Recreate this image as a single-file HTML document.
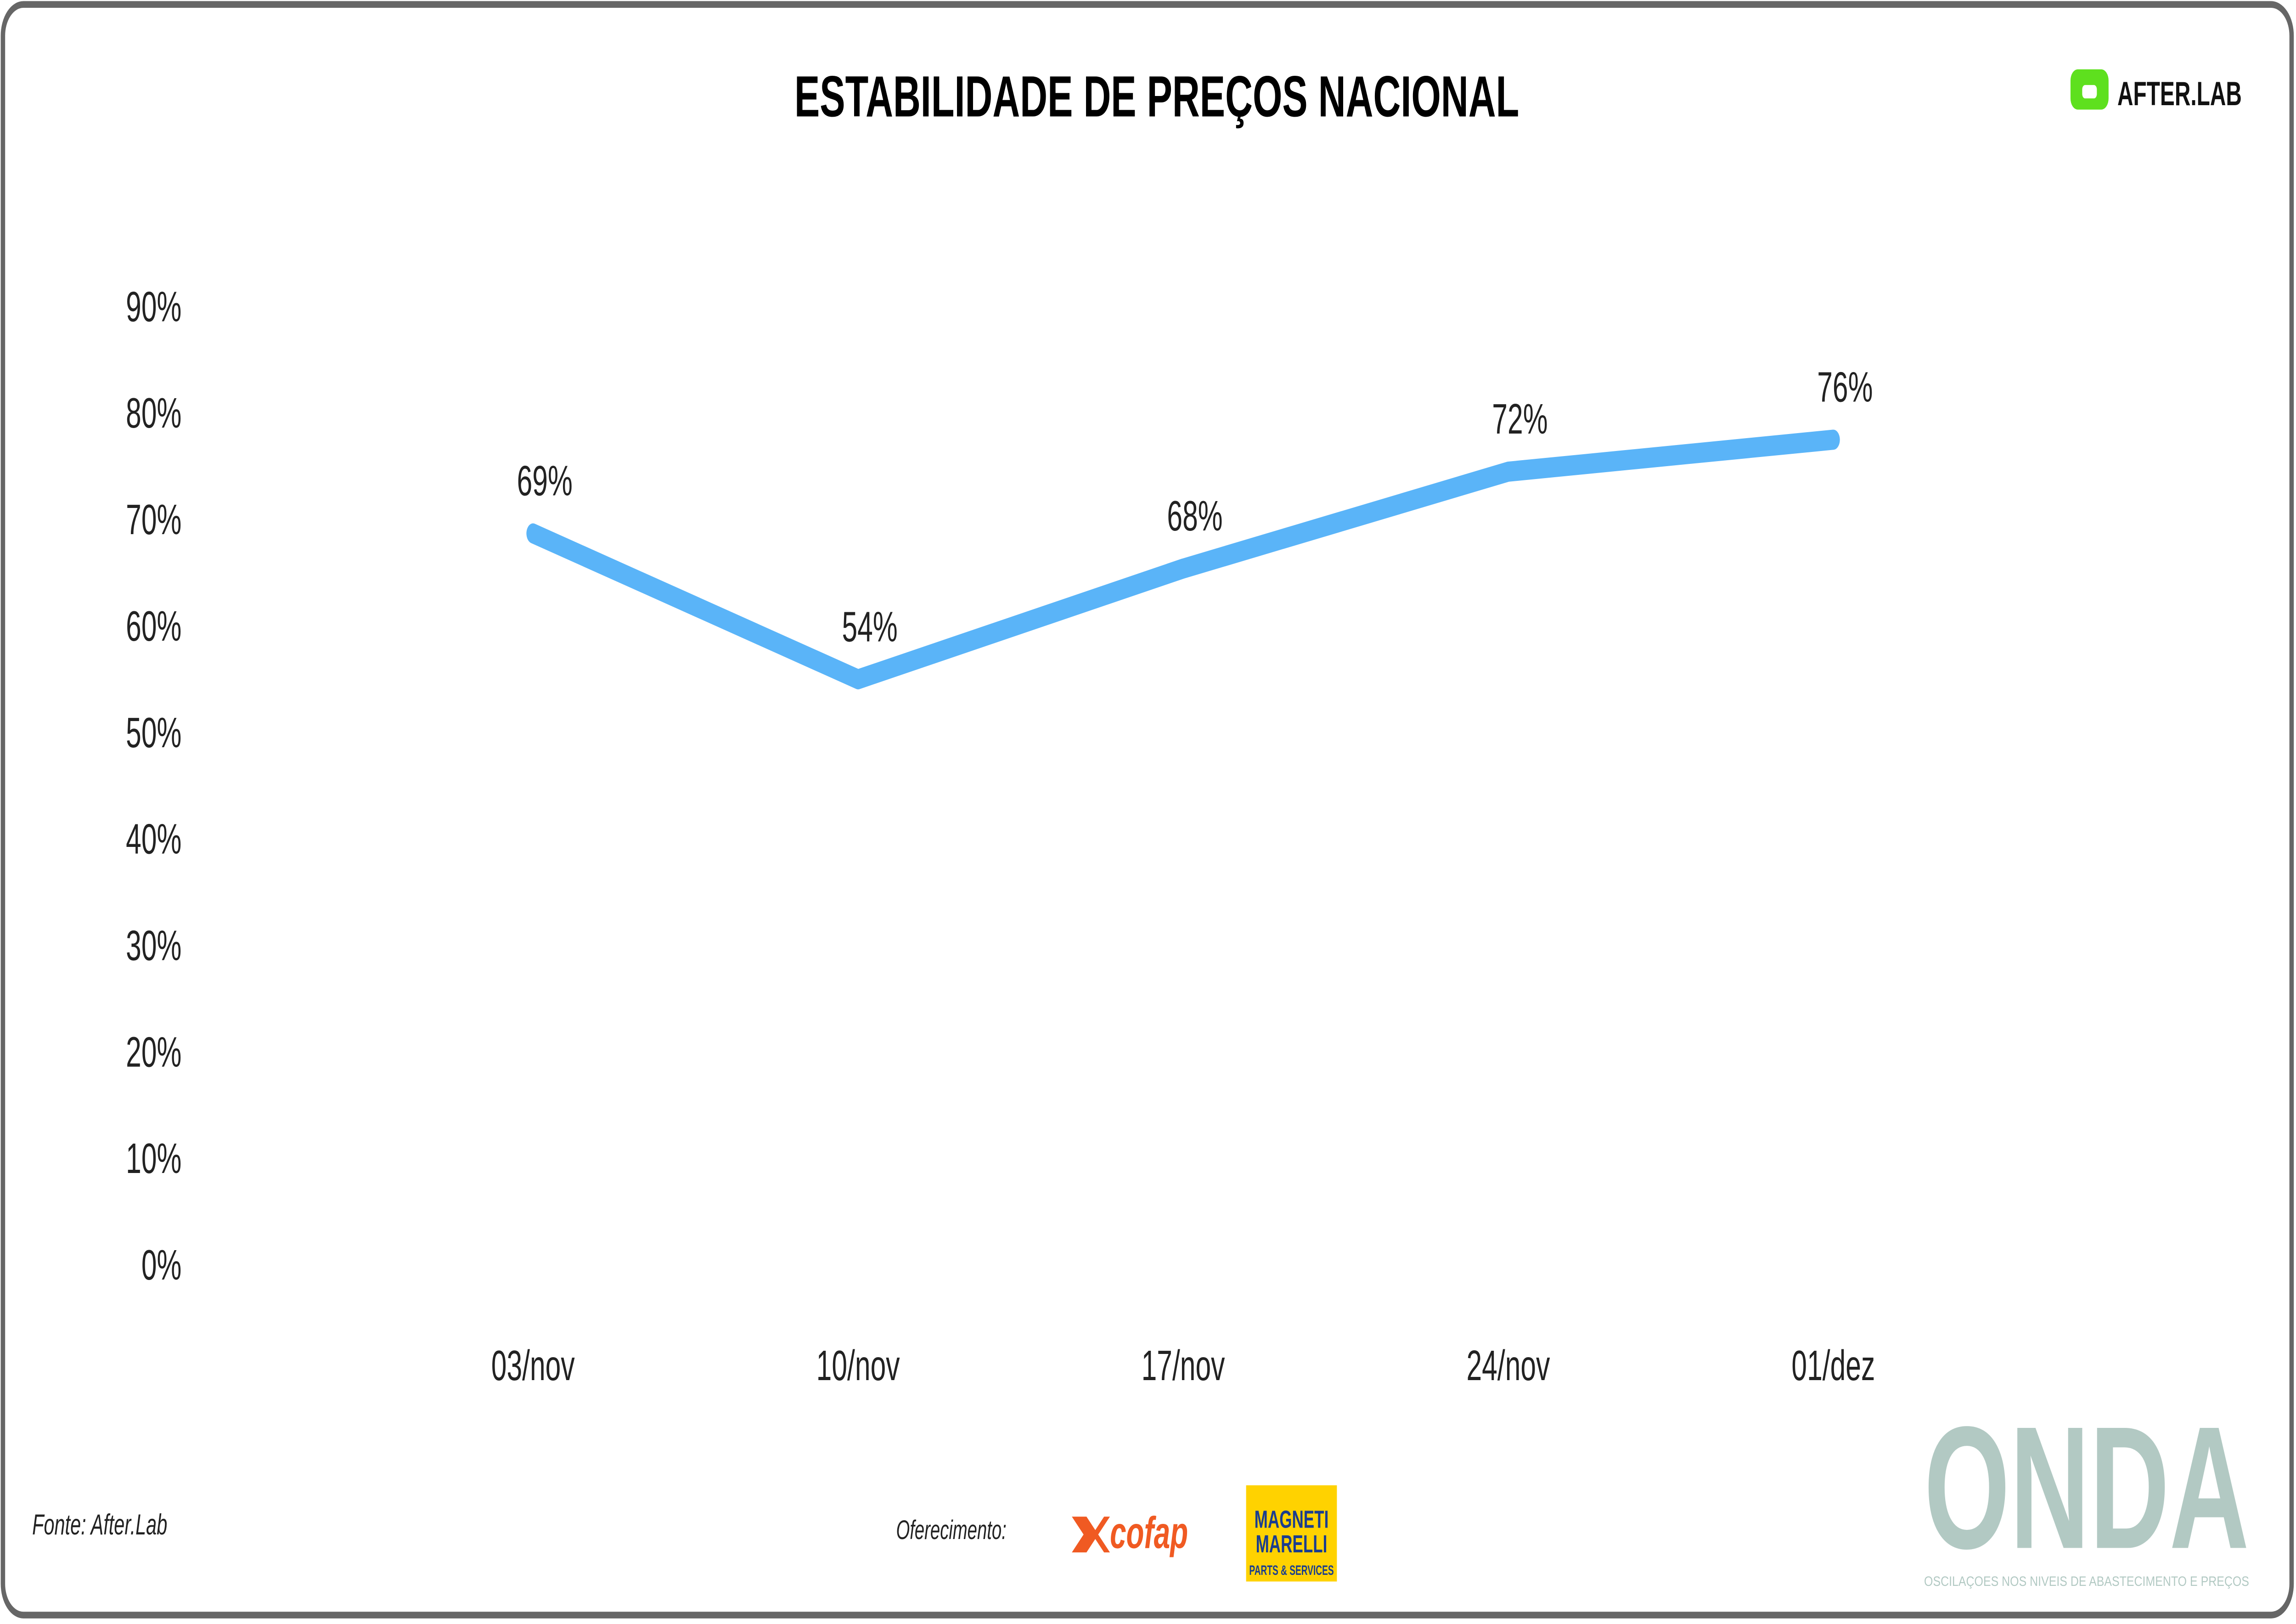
<!DOCTYPE html>
<html><head><meta charset="utf-8"><style>
html,body{margin:0;padding:0;background:#fff;width:100%;height:100%;overflow:hidden;}
#chart{position:fixed;left:0;top:0;width:100vw;height:100vh;display:block;}
</style></head><body>
<svg id="chart" viewBox="0 0 1568 726" preserveAspectRatio="none" xmlns="http://www.w3.org/2000/svg" font-family="'Liberation Sans', sans-serif">
<rect x="0" y="0" width="1568" height="726" fill="#fff"/>
<rect x="2" y="2" width="1563" height="720" rx="14" fill="#fff" stroke="#666" stroke-width="3"/>
<text x="790" y="52" text-anchor="middle" font-size="26" font-weight="bold" fill="#000">ESTABILIDADE DE PREÇOS NACIONAL</text>
<g>
<rect x="1414" y="31" width="26" height="18" rx="5" fill="#5ee01e"/>
<rect x="1422" y="38" width="10" height="6" rx="2" fill="#fff"/>
<text x="1446" y="47" font-size="15" font-weight="bold" fill="#111">AFTER.LAB</text>
</g>
<g id="yaxis"></g>
<g id="xaxis"></g>
<g id="series"></g>
<g id="labels"></g>
<text x="22" y="686" font-size="13" font-style="italic" fill="#222">Fonte: After.Lab</text>
<text x="612" y="688" font-size="12" font-style="italic" fill="#222">Oferecimento:</text>
<g>
<text x="758" y="692" font-size="20" font-weight="bold" font-style="italic" fill="#f05a22">cofap</text>
<path d="M732 678 L742 678 L748 684 L754 678 L758 678 L750 686 L758 694 L754 694 L748 688 L742 694 L732 694 L740 686 Z" fill="#f05a22"/>
</g>
<g>
<rect x="851" y="664" width="62" height="43" fill="#ffd200"/>
<text x="882" y="683" font-size="11" font-weight="bold" fill="#1a3d8f" text-anchor="middle">MAGNETI</text>
<text x="882" y="694" font-size="11" font-weight="bold" fill="#1a3d8f" text-anchor="middle">MARELLI</text>
<text x="882" y="704" font-size="6" font-weight="bold" fill="#1a3d8f" text-anchor="middle">PARTS &amp; SERVICES</text>
</g>
<g>
<text x="1425" y="692" font-size="78" font-weight="bold" fill="#b2c9c3" text-anchor="middle" textLength="222" lengthAdjust="spacingAndGlyphs">ONDA</text>
<text x="1425" y="709" font-size="6" fill="#b2c9c3" text-anchor="middle" textLength="222" lengthAdjust="spacingAndGlyphs">OSCILAÇOES NOS NIVEIS DE ABASTECIMENTO E PREÇOS</text>
</g>
</svg>
<script>
const categories = ["03/nov","10/nov","17/nov","24/nov","01/dez"];
const values = [68.6, 54.9, 65.3, 74.4, 77.4];
const valueLabels = ["69%","54%","68%","72%","76%"];
const yTicks = [0,10,20,30,40,50,60,70,80,90];

const NS = "http://www.w3.org/2000/svg";
const y0 = 565, pxPerPct = 4.76;
const xStart = 364, xEnd = 1252;
function yScale(v){ return y0 - v * pxPerPct; }
function xScale(i){ return xStart + i * (xEnd - xStart) / (categories.length - 1); }
function mk(tag, attrs, parent, txt){
  const el = document.createElementNS(NS, tag);
  for (const k in attrs) el.setAttribute(k, attrs[k]);
  if (txt !== undefined) el.textContent = txt;
  parent.appendChild(el);
  return el;
}
const ya = document.getElementById('yaxis');
yTicks.forEach(t => {
  const el = mk('text', {x:124, y:yScale(t)+7, 'text-anchor':'end', 'font-size':19, fill:'#222'}, ya, t + '%');
  
  
});
const xa = document.getElementById('xaxis');
categories.forEach((c, i) => {
  const el = mk('text', {x:xScale(i), y:617, 'text-anchor':'middle', 'font-size':19, fill:'#222'}, xa, c);
  
  
});
const pts = values.map((v, i) => xScale(i) + ',' + yScale(v)).join(' ');
const line = mk('polyline', {points:pts, fill:'none', stroke:'#5ab4f8', 'stroke-width':9, 'stroke-linejoin':'round', 'stroke-linecap':'round'}, document.getElementById('series'));


const lb = document.getElementById('labels');
values.forEach((v, i) => {
  const el = mk('text', {x:xScale(i)+8, y:yScale(v)-17, 'text-anchor':'middle', 'font-size':19, fill:'#222'}, lb, valueLabels[i]);
  
  
});
</script>
</body></html>
